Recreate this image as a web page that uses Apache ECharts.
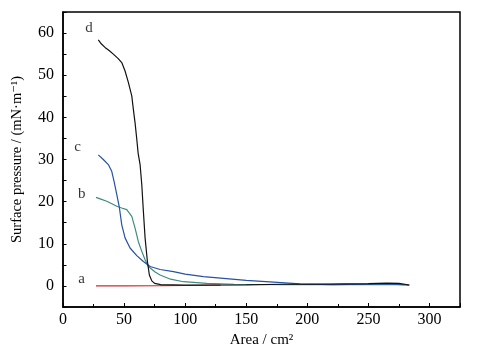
<!DOCTYPE html>
<html><head><meta charset="utf-8">
<script src="https://cdn.jsdelivr.net/npm/echarts@6/dist/echarts.min.js"></script>
<style>html,body{margin:0;padding:0;background:#fff}#c{width:482px;height:355px}</style>
</head><body><div id="c"></div>
<script>
// Curve data: [area cm^2, surface pressure mN/m]
const curveD = [[28.9,58.4],[31.5,57.4],[34.4,56.6],[38,55.8],[41.2,55.0],[45,54.0],[48.1,53.0],[50.8,51.0],[53.5,48.3],[56.3,45.1],[57.6,41.9],[59,38.7],[60.4,34.8],[61.5,31.5],[63.1,28.8],[64.5,24.0],[65.8,17.7],[67.2,11.4],[69.1,5.8],[70.7,2.6],[72.7,1.2],[75,0.6],[80,0.3],[100,0.2],[150,0.25],[180,0.4],[200,0.4],[230,0.5],[250,0.55],[265,0.65],[275,0.6],[280,0.4],[283.6,0.2]];
const curveC = [[28.9,31.1],[33,30],[37.1,28.8],[39.9,27.2],[41.8,24.8],[44,21.7],[46.2,18.5],[48.1,14.5],[50.8,11.4],[54.9,9.0],[60.4,7.2],[65.8,5.8],[71.3,4.6],[79.5,3.9],[90.4,3.4],[100,2.8],[115,2.2],[131.4,1.8],[150,1.3],[172.4,0.9],[194,0.5],[220,0.3],[250,0.4],[270,0.4],[283,0.2]];
const curveB = [[27,21.0],[31,20.6],[35.8,20.1],[40,19.5],[44,18.9],[48,18.5],[52.2,18.1],[56.3,16.5],[59,13.7],[61.7,10.5],[64.5,8.2],[67.2,6.2],[69.9,4.6],[75.4,3.3],[79.5,2.6],[88,1.6],[98.6,1.0],[117.8,0.6],[140,0.4],[180,0.3],[230,0.3],[280,0.3]];
const curveA = [[27,0],[50,0],[80,0.05],[100,0.1],[129,0.2]];
const curveLabels = [["a",15.3,1.7],["b",15.3,21.9],["c",12,32.9],["d",21.3,61.2]];
const xTicks = [0,50,100,150,200,250,300];
const yTicks = [0,10,20,30,40,50,60];

const serif = '"Liberation Serif","DejaVu Serif",serif';
const chart = echarts.init(document.getElementById('c'));
function line(data,color){
  return {type:'line',data:data,showSymbol:false,symbol:'none',smooth:false,
    lineStyle:{color:color,width:1.2},silent:true,animation:false};
}
chart.setOption({
  animation:false,
  grid:{left:63,top:12,right:22,bottom:48,show:true,borderColor:'#000',borderWidth:1.5,backgroundColor:'transparent'},
  xAxis:{type:'value',min:0,max:325,interval:50,
    name:'Area / cm²',nameLocation:'middle',nameGap:24,
    nameTextStyle:{fontFamily:serif,fontSize:15,color:'#000'},
    axisLine:{onZero:false,lineStyle:{color:'#000',width:1.5}},
    axisTick:{inside:true,length:4,lineStyle:{color:'#000'}},
    minorTick:{show:true,splitNumber:2,length:3,lineStyle:{color:'#000'}},
    splitLine:{show:false},
    axisLabel:{fontFamily:serif,fontSize:16,color:'#000',margin:5,
      formatter:v=>xTicks.includes(v)?String(v):''}},
  yAxis:{type:'value',min:-5,max:65,interval:5,
    name:'Surface pressure / (mN·m⁻¹)',nameLocation:'middle',nameGap:38,
    nameTextStyle:{fontFamily:serif,fontSize:14.5,color:'#000'},
    axisLine:{onZero:false,lineStyle:{color:'#000',width:1.5}},
    axisTick:{inside:true,length:3.5,lineStyle:{color:'#000'}},
    splitLine:{show:false},
    axisLabel:{fontFamily:serif,fontSize:16,color:'#000',margin:9,
      formatter:v=>yTicks.includes(v)?String(v):''}},
  series:[
    line(curveA,'#d42a2a'),
    line(curveB,'#3e8c80'),
    line(curveC,'#2452a4'),
    line(curveD,'#111111'),
    {type:'scatter',symbolSize:0,silent:true,
      data:curveLabels.map(l=>({value:[l[1],l[2]],name:l[0]})),
      label:{show:true,position:'inside',formatter:p=>p.name,
        fontFamily:serif,fontSize:15,color:'#000'}}
  ]
});
</script></body></html>
